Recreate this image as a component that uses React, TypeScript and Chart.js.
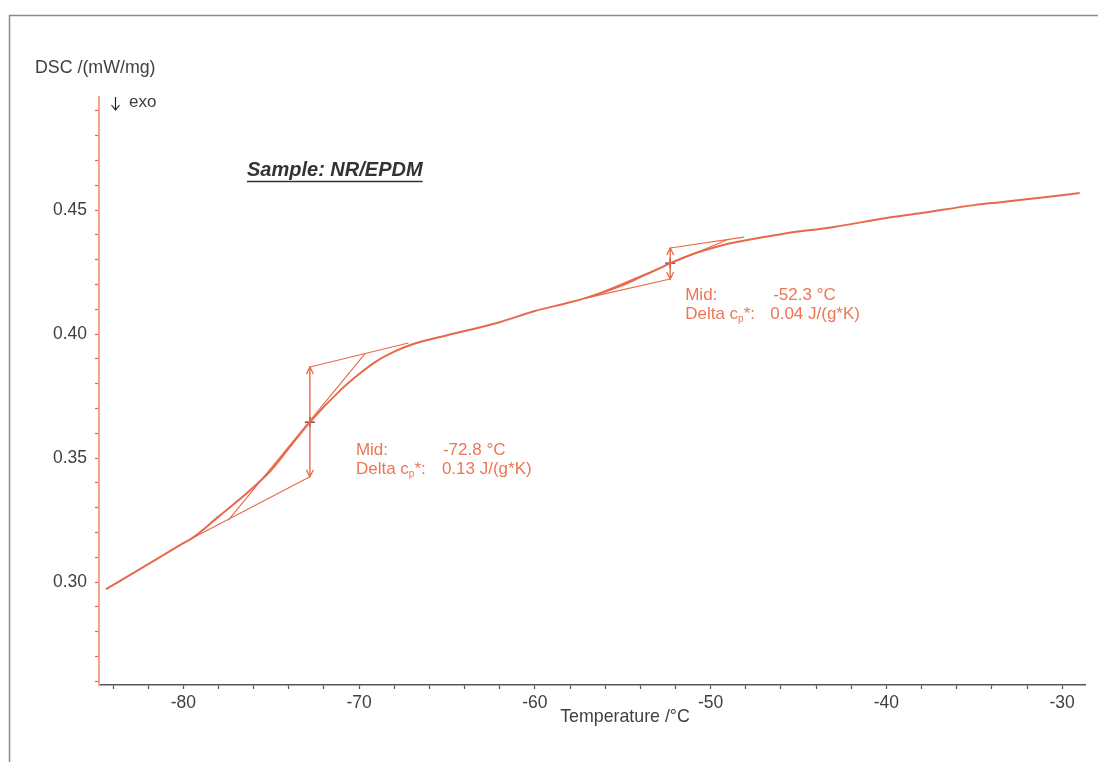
import React, { useEffect, useRef } from "react";
import { Chart, registerables } from "chart.js";

Chart.register(...registerables);

// ---- data ----
const temperatures = [
  -84.4, -82, -80, -79.5, -78, -76.2, -75, -74, -72.8, -71, -70, -69, -68, -67,
  -65.4, -62, -60, -58, -57, -55, -54, -53, -52.3, -51, -50, -48.8, -46, -43,
  -40, -38, -35, -33.5, -31, -29,
];
const dscValues = [
  0.2972, 0.3072, 0.3157, 0.3177, 0.3264, 0.337, 0.3452, 0.354, 0.3645, 0.3778,
  0.3839, 0.3891, 0.3929, 0.3958, 0.3988, 0.4048, 0.4093, 0.4128, 0.4148,
  0.4198, 0.423, 0.4262, 0.4286, 0.4323, 0.4345, 0.4367, 0.4403, 0.4432,
  0.4468, 0.4488, 0.452, 0.4532, 0.4552, 0.4569,
];

// glass transition evaluation (two steps)
const midTemps = [-72.8, -52.3];
const midDsc = [0.3645, 0.4286];
const deltaCp = ["0.13", "0.04"];
const stepLow = [0.3425, 0.4222];
const stepHigh = [0.3867, 0.4347];

// extrapolated baselines and inflection tangents: [T, DSC] pairs
const lowerBaseT = [[-79.5, -72.8], [-57.1, -52.3]];
const lowerBaseY = [[0.3177, 0.3425], [0.4145, 0.4222]];
const upperBaseT = [[-72.8, -67.2], [-52.3, -48.1]];
const upperBaseY = [[0.3867, 0.3964], [0.4347, 0.4391]];
const tangentT = [[-77.44, -69.64], [-56.88, -49.08]];
const tangentY = [[0.325, 0.3923], [0.4149, 0.4379]];

// axis ranges / ticks
const xMin = -84.8;
const xMax = -28.7;
const yMin = 0.2585;
const yMax = 0.4956;
const xMinorStep = 2;
const xMajorStep = 10;
const yMinorStep = 0.01;
const yMajorStep = 0.05;

const sampleTitle = "Sample: NR/EPDM";
const yTitle = "DSC /(mW/mg)";
const xTitle = "Temperature /°C";

// ---- styles ----
const FONT = "'Liberation Sans', Arial, sans-serif";
const CURVE = "#E8694A";
const TEXT_ORANGE = "#EC7655";
const AXIS_SALMON = "#F5A28C";
const GRAY_TEXT = "#3f3f3f";
// label offsets from the midpoint marker (px)
const labelOffsets = [
  { dx: 46, dy: 28, col: 133, col2: 132 },
  { dx: 15, dy: 32, col: 103, col2: 100 },
];

const pairs = (ts: number[], ys: number[]) => ts.map((t, i) => ({ x: t, y: ys[i] }));

const overlayPlugin = {
  id: "dscOverlay",
  afterDraw(chart: any) {
    const ctx: CanvasRenderingContext2D = chart.ctx;
    const xs = chart.scales.x;
    const ys = chart.scales.y;
    const ca = chart.chartArea;
    ctx.save();

    // frame (top + left)
    ctx.strokeStyle = "#8c8c8c";
    ctx.lineWidth = 1.5;
    ctx.beginPath();
    ctx.moveTo(9.5, chart.height);
    ctx.lineTo(9.5, 15.5);
    ctx.lineTo(chart.width, 15.5);
    ctx.stroke();

    // y title
    ctx.fillStyle = GRAY_TEXT;
    ctx.font = `17.8px ${FONT}`;
    ctx.textBaseline = "middle";
    ctx.textAlign = "left";
    ctx.fillText(yTitle, 35, ca.top - 29);

    // exo arrow
    const ax = ca.left + 16.5;
    ctx.strokeStyle = "#222";
    ctx.lineWidth = 1.2;
    ctx.beginPath();
    ctx.moveTo(ax, ca.top);
    ctx.lineTo(ax, ca.top + 13);
    ctx.moveTo(ax - 4, ca.top + 8);
    ctx.lineTo(ax, ca.top + 13);
    ctx.lineTo(ax + 4, ca.top + 8);
    ctx.stroke();
    ctx.font = `17px ${FONT}`;
    ctx.fillText("exo", ca.left + 30, ca.top + 5);

    // x title
    ctx.font = `17.8px ${FONT}`;
    ctx.textAlign = "center";
    ctx.fillText(xTitle, 625, ca.bottom + 32);

    // sample title
    ctx.font = `italic bold 20px ${FONT}`;
    ctx.textAlign = "left";
    ctx.fillStyle = "#333";
    const tw = ctx.measureText(sampleTitle).width;
    ctx.fillText(sampleTitle, 247, 170);
    ctx.strokeStyle = "#333";
    ctx.lineWidth = 1.3;
    ctx.beginPath();
    ctx.moveTo(247, 181.5);
    ctx.lineTo(247 + tw, 181.5);
    ctx.stroke();

    // arrow heads + labels for each step
    midTemps.forEach((t, i) => {
      const px = xs.getPixelForValue(t);
      const yl = ys.getPixelForValue(stepLow[i]);
      const yh = ys.getPixelForValue(stepHigh[i]);
      const ym = ys.getPixelForValue(midDsc[i]);
      ctx.strokeStyle = CURVE;
      ctx.lineWidth = 1.3;
      ctx.beginPath();
      ctx.moveTo(px - 3.5, yh + 7);
      ctx.lineTo(px, yh);
      ctx.lineTo(px + 3.5, yh + 7);
      ctx.moveTo(px - 3.5, yl - 7);
      ctx.lineTo(px, yl);
      ctx.lineTo(px + 3.5, yl - 7);
      ctx.stroke();

      const o = labelOffsets[i];
      const lx = px + o.dx;
      const ly = ym + o.dy;
      ctx.fillStyle = TEXT_ORANGE;
      ctx.font = `17px ${FONT}`;
      ctx.textAlign = "left";
      ctx.textBaseline = "middle";
      ctx.fillText("Mid:", lx, ly);
      ctx.fillText(`${t.toFixed(1)} °C`, px + o.col, ly);
      const ly2 = ly + 19;
      const part1 = "Delta c";
      ctx.fillText(part1, lx, ly2);
      const w1 = ctx.measureText(part1).width;
      ctx.font = `10px ${FONT}`;
      ctx.fillText("p", lx + w1, ly2 + 5);
      const w2 = ctx.measureText("p").width;
      ctx.font = `17px ${FONT}`;
      ctx.fillText("*:", lx + w1 + w2, ly2);
      ctx.fillText(`${deltaCp[i]} J/(g*K)`, px + o.col2, ly2);
    });

    ctx.restore();
  },
};

export default function App() {
  const ref = useRef<HTMLCanvasElement | null>(null);

  useEffect(() => {
    if (!ref.current) return;
    const thin = { borderColor: CURVE, borderWidth: 1.1, pointRadius: 0, showLine: true, tension: 0 };
    const datasets: any[] = [
      {
        label: "DSC",
        data: pairs(temperatures, dscValues),
        borderColor: CURVE,
        borderWidth: 2,
        pointRadius: 0,
        showLine: true,
        cubicInterpolationMode: "monotone",
      },
    ];
    for (let i = 0; i < midTemps.length; i++) {
      datasets.push({ label: `lower${i}`, data: pairs(lowerBaseT[i], lowerBaseY[i]), ...thin });
      datasets.push({ label: `upper${i}`, data: pairs(upperBaseT[i], upperBaseY[i]), ...thin });
      datasets.push({ label: `tangent${i}`, data: pairs(tangentT[i], tangentY[i]), ...thin });
      datasets.push({
        label: `step${i}`,
        data: [
          { x: midTemps[i], y: stepLow[i] },
          { x: midTemps[i], y: stepHigh[i] },
        ],
        ...thin,
        borderWidth: 1.4,
      });
    }
    datasets.push({
      label: "mid",
      data: pairs(midTemps, midDsc),
      showLine: false,
      pointStyle: "cross",
      pointRadius: 5,
      pointBorderWidth: 1.4,
      pointBorderColor: "#333",
      borderColor: "#333",
    });

    const chart = new Chart(ref.current, {
      type: "scatter",
      data: { datasets },
      options: {
        responsive: false,
        animation: false,
        events: [],
        layout: { padding: { left: 0, top: 97, right: 13, bottom: 0 } },
        plugins: { legend: { display: false }, tooltip: { enabled: false }, title: { display: false } },
        scales: {
          x: {
            type: "linear",
            min: xMin,
            max: xMax,
            afterFit: (s: any) => {
              s.height = 77;
            },
            ticks: {
              stepSize: xMinorStep,
              includeBounds: false,
              autoSkip: false,
              maxRotation: 0,
              padding: 4,
              color: GRAY_TEXT,
              font: { family: FONT, size: 17.5 },
              callback: (v: any) =>
                Math.abs(Number(v) / xMajorStep - Math.round(Number(v) / xMajorStep)) < 1e-6 ? String(Math.round(Number(v))) : "",
            },
            grid: { drawOnChartArea: false, drawTicks: true, tickLength: 4, tickColor: "#555", tickWidth: 1.2 },
            border: { display: true, color: "#555", width: 1.5 },
          },
          y: {
            type: "linear",
            min: yMin,
            max: yMax,
            afterFit: (s: any) => {
              s.width = 99;
            },
            ticks: {
              stepSize: yMinorStep,
              includeBounds: false,
              autoSkip: false,
              padding: 8,
              color: GRAY_TEXT,
              font: { family: FONT, size: 17.5 },
              callback: (v: any) =>
                Math.abs(Number(v) / yMajorStep - Math.round(Number(v) / yMajorStep)) < 1e-6 ? Number(v).toFixed(2) : "",
            },
            grid: { drawOnChartArea: false, drawTicks: true, tickLength: 4, tickColor: CURVE, tickWidth: 1.3 },
            border: { display: true, color: AXIS_SALMON, width: 2 },
          },
        },
      },
      plugins: [overlayPlugin],
    });
    return () => chart.destroy();
  }, []);

  return (
    <div style={{ position: "absolute", left: 0, top: 0, width: 1098, height: 762, background: "#fff" }}>
      <canvas ref={ref} width={1098} height={762} style={{ display: "block" }} />
    </div>
  );
}
